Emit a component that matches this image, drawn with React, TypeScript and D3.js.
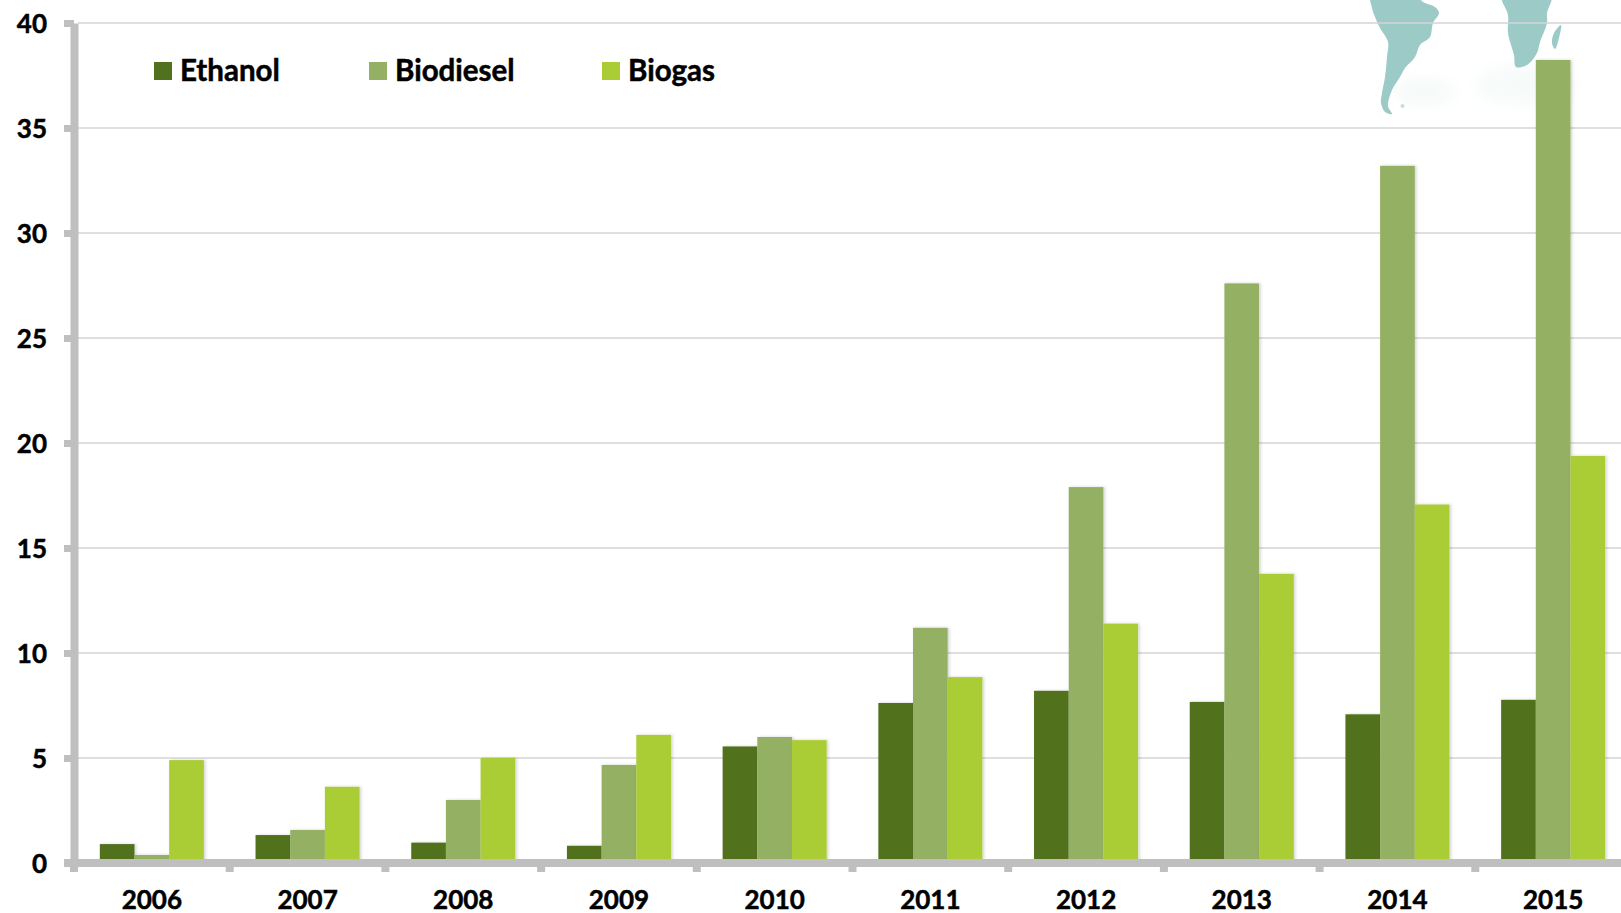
import React, { useEffect, useRef } from "react";
import * as d3 from "d3";

const years = ["2006", "2007", "2008", "2009", "2010", "2011", "2012", "2013", "2014", "2015"];
const seriesNames = ["Ethanol", "Biodiesel", "Biogas"];
const ethanol = [0.9, 1.33, 0.97, 0.82, 5.55, 7.62, 8.2, 7.67, 7.08, 7.77];
const biodiesel = [0.38, 1.57, 3.0, 4.67, 6.0, 11.2, 17.9, 27.6, 33.2, 38.24];
const biogas = [4.9, 3.63, 5.0, 6.1, 5.85, 8.85, 11.4, 13.77, 17.07, 19.38];
const seriesValues = [ethanol, biodiesel, biogas];
const colors = ["#51711f", "#94b064", "#aacc35"];
const yTicks = [0, 5, 10, 15, 20, 25, 30, 35, 40];

const width = 1621;
const height = 913;
const axisGrey = "#bfbfbf";
const fontFamily = "Lato, 'Open Sans', sans-serif";

// background map fragments at the top right
const southAmerica: [number, number][] = [
  [1371, -4], [1372, 8], [1375, 17], [1380, 28], [1388, 42], [1387, 57], [1385, 77], [1382, 93], [1381, 103],
  [1385, 112], [1392, 114], [1388, 106], [1392, 90], [1400, 77], [1405, 68], [1415, 57], [1420, 45],
  [1430, 37], [1433, 23], [1439, 13], [1435, 7], [1423, 2], [1416, -4],
];
const africa: [number, number][] = [
  [1502, -4], [1508, 15], [1508, 33], [1514, 55], [1516, 67], [1527, 65], [1537, 53], [1540, 42],
  [1547, 23], [1547, 13], [1551, -4],
];
const madagascar: [number, number][] = [[1561, 25], [1554, 33], [1552, 43], [1555, 49], [1559, 38]];

const mapLine = d3.line().curve(d3.curveCatmullRomClosed.alpha(0.5));

export default function App() {
  const ref = useRef<SVGSVGElement>(null);

  useEffect(() => {
    const svg = d3.select(ref.current);
    svg.selectAll("*").remove();

    const x = d3.scaleBand().domain(years).range([74, 1631]).paddingInner(0.332).paddingOuter(0.166);
    const inner = d3.scaleBand().domain(seriesNames).range([0, x.bandwidth()]);
    const y = d3.scaleLinear().domain([0, 40]).range([863, 23]);

    const defs = svg.append("defs");
    defs.append("filter").attr("id", "soft").append("feGaussianBlur").attr("stdDeviation", 0.6);
    defs.append("filter").attr("id", "faint")
      .attr("x", "-50%").attr("y", "-50%").attr("width", "200%").attr("height", "200%")
      .append("feGaussianBlur").attr("stdDeviation", 9);
    defs
      .append("filter")
      .attr("id", "barShadow")
      .attr("x", "-20%")
      .attr("width", "140%")
      .append("feDropShadow")
      .attr("dx", 1.5)
      .attr("dy", 0)
      .attr("stdDeviation", 1.5)
      .attr("flood-opacity", 0.18);

    // map
    const map = svg.append("g");
    map.append("ellipse").attr("cx", 1425).attr("cy", 92).attr("rx", 30).attr("ry", 10).attr("fill", "#f3f8f7").attr("filter", "url(#faint)");
    map.append("ellipse").attr("cx", 1525).attr("cy", 85).attr("rx", 50).attr("ry", 18).attr("fill", "#f6faf9").attr("filter", "url(#faint)");
    map.append("g").attr("fill", "#9ccac7").attr("filter", "url(#soft)")
      .selectAll("path").data([southAmerica, africa, madagascar]).join("path").attr("d", (d) => mapLine(d));
    map.append("circle").attr("cx", 1402.5).attr("cy", 106).attr("r", 2).attr("fill", "#c4dfdc").attr("filter", "url(#soft)");

    // grid
    svg.append("g").selectAll("line").data(yTicks.filter((d) => d > 0)).join("line")
      .attr("x1", 78).attr("x2", width)
      .attr("y1", (d) => y(d)).attr("y2", (d) => y(d))
      .attr("stroke", "#d4d4d4").attr("stroke-width", 1.5);

    // bars
    svg.append("g").selectAll("g").data(seriesNames).join("g")
      .attr("fill", (_, i) => colors[i])
      .attr("filter", "url(#barShadow)")
      .selectAll("rect")
      .data((_, i) => seriesValues[i].map((v, j) => ({ v, year: years[j], name: seriesNames[i] })))
      .join("rect")
      .attr("x", (d) => x(d.year)! + inner(d.name)!)
      .attr("y", (d) => y(d.v))
      .attr("width", inner.bandwidth())
      .attr("height", (d) => y(0) - y(d.v));

    // axes
    const labelStyle = (sel: any) =>
      sel.attr("font-family", fontFamily).attr("font-weight", 700).attr("font-size", 26)
        .attr("fill", "#000").attr("stroke", "#000").attr("stroke-width", 0.5);

    const yAxis = svg.append("g").attr("transform", "translate(74,0)")
      .call(d3.axisLeft(y).tickValues(yTicks).tickSize(10).tickSizeOuter(0).tickPadding(17));
    yAxis.select(".domain").attr("stroke", axisGrey).attr("stroke-width", 8);
    yAxis.selectAll(".tick line").attr("stroke", axisGrey).attr("stroke-width", 7);
    labelStyle(yAxis.selectAll("text"));
    yAxis.selectAll("text").attr("y", 1);

    const xAxis = svg.append("g").attr("transform", "translate(0,863)")
      .call(d3.axisBottom(x).tickSize(0).tickPadding(28));
    xAxis.select(".domain").remove();
    labelStyle(xAxis.selectAll("text"));

    svg.append("line").attr("x1", 64).attr("x2", width).attr("y1", 863).attr("y2", 863)
      .attr("stroke", axisGrey).attr("stroke-width", 8);
    svg.append("g").selectAll("line").data(years).join("line")
      .attr("x1", (d) => x(d)! - (x.step() - x.bandwidth()) / 2)
      .attr("x2", (d) => x(d)! - (x.step() - x.bandwidth()) / 2)
      .attr("y1", 863).attr("y2", 872)
      .attr("stroke", axisGrey).attr("stroke-width", 8);

    // legend
    const legendX = d3.scaleOrdinal<string, number>().domain(seriesNames).range([154, 369, 602]);
    const legend = svg.append("g").selectAll("g").data(seriesNames).join("g")
      .attr("transform", (d) => `translate(${legendX(d)},62)`);
    legend.append("rect").attr("width", 18).attr("height", 18).attr("fill", (_, i) => colors[i]);
    legend.append("text").text((d) => d).attr("x", 26).attr("y", 19)
      .attr("font-family", fontFamily).attr("font-weight", 700).attr("font-size", 29.5)
      .attr("fill", "#000").attr("stroke", "#000").attr("stroke-width", 0.5);
  }, []);

  return (
    <svg
      ref={ref}
      width={width}
      height={height}
      style={{ position: "absolute", left: 0, top: 0, background: "#fff" }}
    />
  );
}
